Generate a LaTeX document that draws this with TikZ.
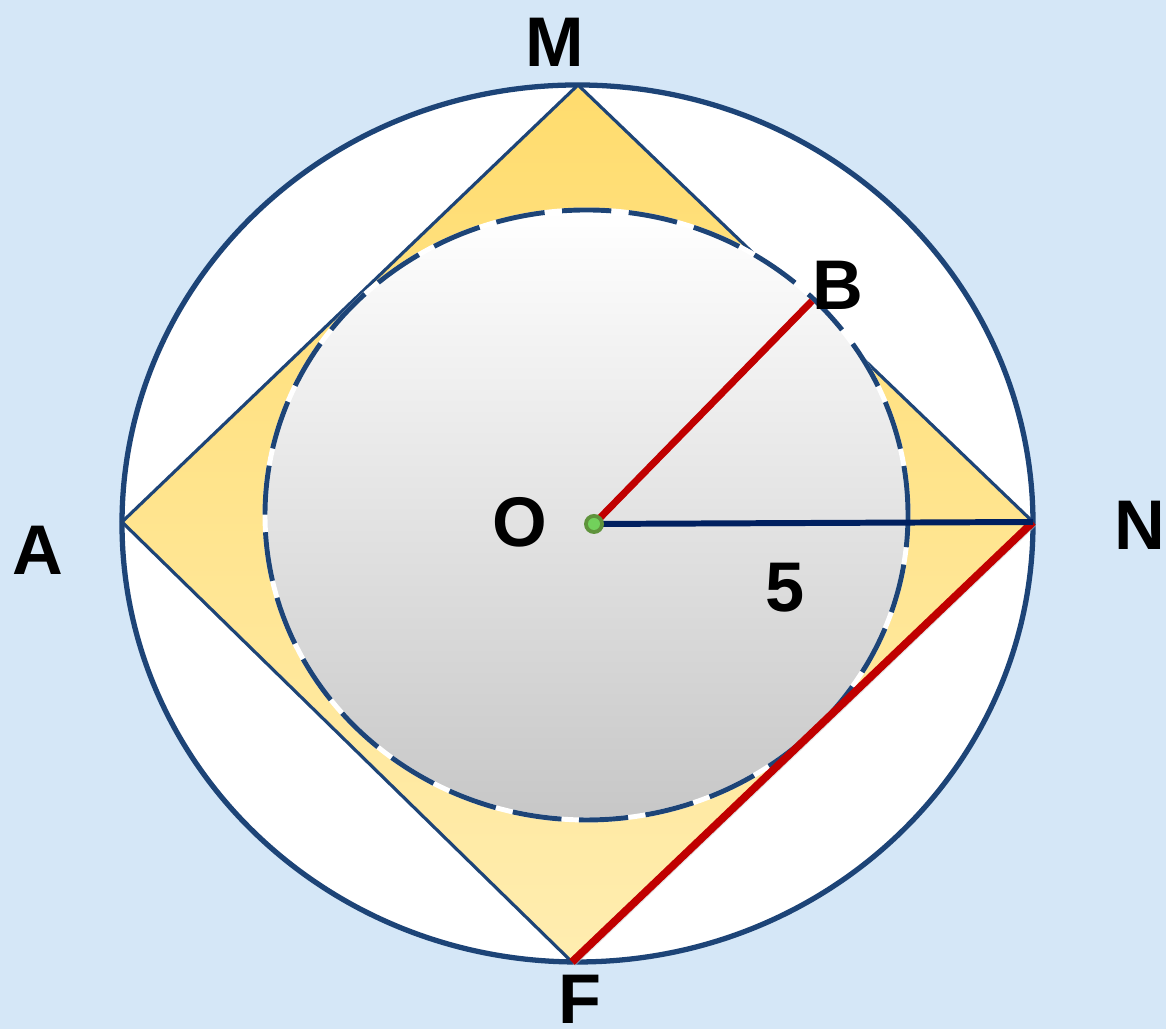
\documentclass[tikz,border=0pt]{standalone}
\usepackage{fontspec}
\setmainfont{Liberation Sans}
\usetikzlibrary{calc}
\definecolor{sky}{HTML}{D5E7F7}
\definecolor{rim}{HTML}{1D4477}
\definecolor{deep}{HTML}{002060}
\definecolor{sq}{HTML}{FFDC6E}
\definecolor{sqlight}{HTML}{FFEDB0}
\definecolor{seg}{HTML}{C00000}
\definecolor{dot}{HTML}{70AD47}
\tikzset{
  ptlabel/.style={font=\fontsize{20}{24}\selectfont\bfseries,text=black,inner sep=0pt}
}

\begin{document}
\begin{tikzpicture}
  % Background
  \fill[sky] (0,0) rectangle (11.66,10.29);
  \useasboundingbox (0,0) rectangle (11.66,10.29);

  % Points
  \coordinate (M) at (5.78,9.44);
  \coordinate (N) at (10.33,5.07);
  \coordinate (F) at (5.72,0.67);
  \coordinate (A) at (1.22,5.07);
  \coordinate (O) at (5.94,5.05);
  \coordinate (B) at (8.12,7.28);

  % Outer circle
  \fill[white] (5.775,5.055) ellipse [x radius=4.555,y radius=4.385];
  \draw[rim,line width=1.5pt] (5.775,5.055) ellipse [x radius=4.555,y radius=4.385];

  % Square MNFA
  \fill[black!20,opacity=0.5] ($(M)+(0.03,-0.04)$) -- ($(N)+(0.03,-0.04)$) -- ($(F)+(0.03,-0.04)$) -- ($(A)+(0.03,-0.04)$) -- cycle;
  \shade[shading angle=225,top color=sq,bottom color=sqlight] (M) -- (N) -- (F) -- (A) -- cycle;
  \draw[rim,line width=0.9pt,line join=miter] (M) -- (N) -- (F) -- (A) -- cycle;

  % Inner circle
  \shade[top color=white,bottom color=black!22] (5.865,5.14) ellipse [x radius=3.215,y radius=3.05];
  \draw[white,line width=1.4pt] (5.865,5.14) ellipse [x radius=3.215,y radius=3.05];
  \draw[rim,line width=1.4pt,dash pattern=on 14pt off 5pt] (5.865,5.14) ellipse [x radius=3.215,y radius=3.05];

  % Segments
  \draw[seg,line width=2.2pt] (F) -- (N);
  \draw[seg,line width=2pt] (O) -- (B);
  \draw[deep,line width=1.7pt] (O) -- (N);
  \fill[dot!85!black] (O) circle (0.1);
  \fill[dot!70!green!80!white] (O) circle (0.06);

  % Labels
  \node[ptlabel] (lM) at (5.55,9.87) {M};
  \node[ptlabel] (lB) at (8.38,7.44) {B};
  \node[ptlabel] (lO) at (5.20,5.07) {O};
  \node[ptlabel] (lN) at (11.40,5.04) {N};
  \node[ptlabel] (lA) at (0.38,4.79) {A};
  \node[ptlabel] (lF) at (5.80,0.30) {F};
  \node[ptlabel] (l5) at (7.85,4.41) {5};
\end{tikzpicture}
\end{document}
